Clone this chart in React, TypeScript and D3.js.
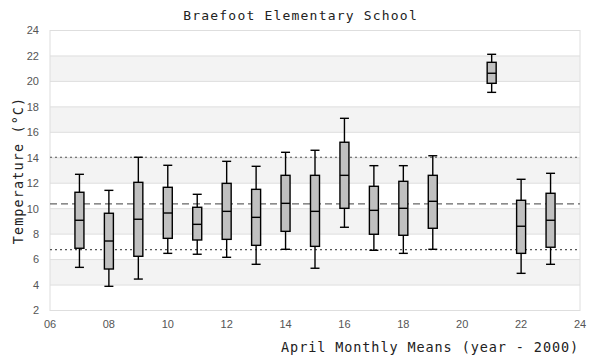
import React from "react";
import * as d3 from "d3";

const years = [7, 8, 9, 10, 11, 12, 13, 14, 15, 16, 17, 18, 19, 21, 22, 23];
const whiskerLow = [5.39, 3.9, 4.47, 6.49, 6.42, 6.18, 5.63, 6.81, 5.32, 8.54, 6.73, 6.49, 6.81, 19.14, 4.92, 5.63];
const q1 = [6.89, 5.26, 6.26, 7.67, 7.54, 7.59, 7.12, 8.22, 7.04, 10.03, 7.99, 7.91, 8.46, 19.85, 6.49, 6.97];
const median = [9.09, 7.46, 9.17, 9.66, 8.77, 9.79, 9.32, 10.42, 9.79, 12.62, 9.87, 10.03, 10.58, 20.64, 8.62, 9.09];
const q3 = [11.29, 9.64, 12.07, 11.68, 10.11, 11.99, 11.52, 12.62, 12.62, 15.22, 11.76, 12.15, 12.62, 21.5, 10.66, 11.21];
const whiskerHigh = [12.7, 11.44, 14.04, 13.41, 11.13, 13.72, 13.33, 14.43, 14.59, 17.1, 13.38, 13.38, 14.16, 22.13, 12.31, 12.78];

const xTicks = [6, 8, 10, 12, 14, 16, 18, 20, 22, 24];
const yTicks = [2, 4, 6, 8, 10, 12, 14, 16, 18, 20, 22, 24];
const bandStarts = [4, 8, 12, 16, 20];
const meanLine = 10.38;
const upperLine = 14.04;
const lowerLine = 6.78;

const title = "Braefoot Elementary School";
const xTitle = "April Monthly Means (year - 2000)";
const yTitle = "Temperature (°C)";

export default function App() {
  const W = 600, H = 360;
  const left = 50, right = 580, top = 30.5, bottom = 310.5;
  const x = d3.scaleLinear().domain([6, 24]).range([left, right]);
  const y = d3.scaleLinear().domain([2, 24]).range([bottom, top]);
  const bw = 9;
  const mono = "'DejaVu Sans Mono', monospace";
  const sans = "'Liberation Sans', Arial, sans-serif";
  const fmt = (v: number) => d3.format("02d")(v);

  return (
    <svg width={W} height={H} style={{ position: "absolute", left: 0, top: 0 }}>
      <rect x={0} y={0} width={W} height={H} fill="#fff" />
      {bandStarts.map((b) => (
        <rect key={b} x={left} width={right - left} y={y(b + 2)} height={y(b) - y(b + 2)} fill="#f3f3f3" />
      ))}
      {yTicks.map((t) => (
        <line key={t} x1={left} x2={right} y1={y(t)} y2={y(t)} stroke="#dedede" strokeWidth={1} />
      ))}
      <rect x={left} y={top} width={right - left} height={bottom - top} fill="none" stroke="#dedede" strokeWidth={1} />
      <line x1={left} x2={right} y1={y(upperLine)} y2={y(upperLine)} stroke="#555" strokeWidth={1.2} strokeDasharray="2,3" />
      <line x1={left} x2={right} y1={y(lowerLine)} y2={y(lowerLine)} stroke="#555" strokeWidth={1.2} strokeDasharray="2,3" />
      <line x1={left} x2={right} y1={y(meanLine)} y2={y(meanLine)} stroke="#666" strokeWidth={1.3} strokeDasharray="7,4" />
      {years.map((yr, i) => {
        const cx = x(yr);
        return (
          <g key={yr} stroke="#000" strokeWidth={1.4}>
            <line x1={cx} x2={cx} y1={y(whiskerHigh[i])} y2={y(q3[i])} />
            <line x1={cx} x2={cx} y1={y(q1[i])} y2={y(whiskerLow[i])} />
            <line x1={cx - bw / 2} x2={cx + bw / 2} y1={y(whiskerHigh[i])} y2={y(whiskerHigh[i])} />
            <line x1={cx - bw / 2} x2={cx + bw / 2} y1={y(whiskerLow[i])} y2={y(whiskerLow[i])} />
            <rect x={cx - bw / 2} width={bw} y={y(q3[i])} height={y(q1[i]) - y(q3[i])} fill="#c0c0c0" />
            <line x1={cx - bw / 2} x2={cx + bw / 2} y1={y(median[i])} y2={y(median[i])} />
          </g>
        );
      })}
      {yTicks.map((t) => (
        <text key={t} x={39} y={y(t)} dy="0.35em" textAnchor="end" fontFamily={sans} fontSize={11} fill="#555">
          {t}
        </text>
      ))}
      {xTicks.map((t) => (
        <text key={t} x={x(t)} y={328} textAnchor="middle" fontFamily={sans} fontSize={11} fill="#555">
          {fmt(t)}
        </text>
      ))}
      <text x={300.6} y={19.5} textAnchor="middle" fontFamily={mono} fontSize={13} letterSpacing={1.2} fill="#222">
        {title}
      </text>
      <text x={579} y={352} textAnchor="end" fontFamily={mono} fontSize={13.5} letterSpacing={0.9} fill="#222">
        {xTitle}
      </text>
      <text transform={`translate(23,${(top + bottom) / 2}) rotate(-90)`} textAnchor="middle" fontFamily={mono} fontSize={13.5} letterSpacing={1.1} fill="#222">
        {yTitle}
      </text>
    </svg>
  );
}
